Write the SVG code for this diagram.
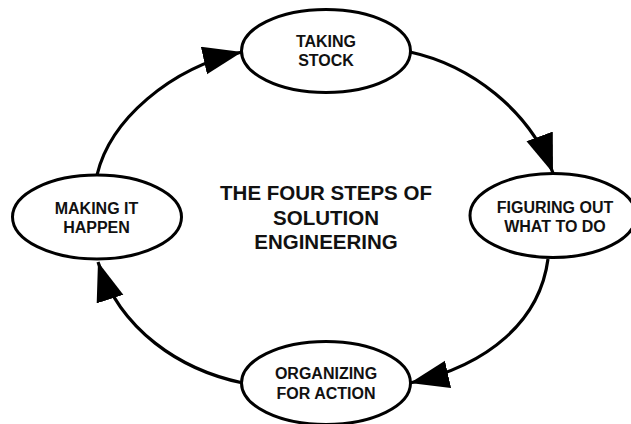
<svg xmlns="http://www.w3.org/2000/svg" width="631" height="424" viewBox="0 0 631 424">
<style>
.node{fill:#fff;stroke:#000;stroke-width:3}
.lbl{font-family:"Liberation Sans",Arial,sans-serif;font-weight:bold;font-size:16px;text-anchor:middle;fill:#111}
.title{font-family:"Liberation Sans",Arial,sans-serif;font-weight:bold;font-size:20.5px;text-anchor:middle;fill:#111}
.conn{fill:none;stroke:#000;stroke-width:3.2}
</style>
<defs>
<marker id="arr" markerUnits="userSpaceOnUse" markerWidth="42" markerHeight="30" refX="39" refY="14" orient="auto">
<path d="M0,0 L39,14 L0,28 Z" fill="#000"/>
</marker>
</defs>
<rect width="631" height="424" fill="#fff"/>
<g id="connectors">
<path class="conn" d="M410,52 C470,65 530,110 553,173" marker-end="url(#arr)"/>
<path class="conn" d="M548,259 C540,320 490,365 410,383" marker-end="url(#arr)"/>
<path class="conn" d="M243,383 C180,370 120,330 98,262" marker-end="url(#arr)"/>
<path class="conn" d="M97,175 C110,120 170,68 242,52" marker-end="url(#arr)"/>
</g>
<g id="taking-stock">
<ellipse class="node" cx="326" cy="51" rx="84.5" ry="41.5"/>
<text class="lbl" x="326" y="46.5">TAKING</text>
<text class="lbl" x="326" y="65.5">STOCK</text>
</g>
<g id="figuring-out">
<ellipse class="node" cx="553" cy="215.5" rx="83" ry="42"/>
<text class="lbl" x="555" y="212.5">FIGURING OUT</text>
<text class="lbl" x="555" y="231.5">WHAT TO DO</text>
</g>
<g id="organizing">
<ellipse class="node" cx="326" cy="383" rx="84.5" ry="41.5"/>
<text class="lbl" x="326" y="379">ORGANIZING</text>
<text class="lbl" x="326" y="399">FOR ACTION</text>
</g>
<g id="making-it-happen">
<ellipse class="node" cx="97" cy="217" rx="84.5" ry="42"/>
<text class="lbl" x="96.5" y="214">MAKING IT</text>
<text class="lbl" x="96.5" y="232.5">HAPPEN</text>
</g>
<g id="title">
<text class="title" x="326" y="199.5">THE FOUR STEPS OF</text>
<text class="title" x="326" y="224.5">SOLUTION</text>
<text class="title" x="326" y="248.5">ENGINEERING</text>
</g>
</svg>
